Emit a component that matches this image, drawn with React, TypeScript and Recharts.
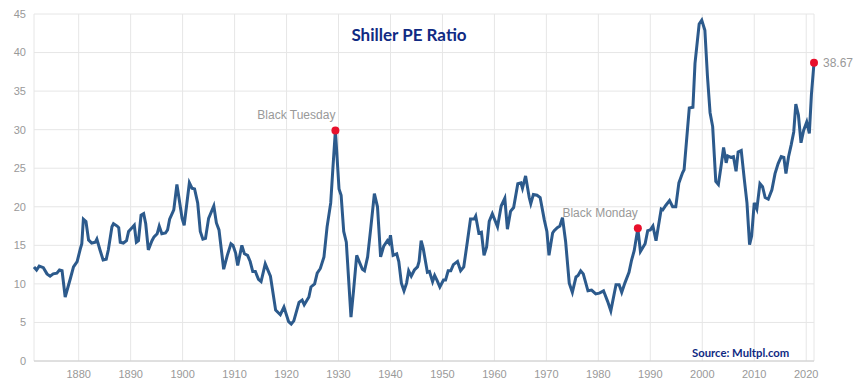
import { CartesianGrid, Line, LineChart, XAxis, YAxis } from "recharts"

// Shiller PE (fractional years)
const years = [
  1871.4, 1871.9, 1872.4, 1873.2, 1873.9, 1874.5, 1875.1, 1875.8, 1876.3, 1876.8,
  1877.4, 1878.4, 1879.0, 1879.7, 1880.3, 1880.6, 1880.9, 1881.4, 1881.9, 1882.5,
  1883.2, 1883.5, 1884.1, 1884.7, 1885.3, 1885.7, 1886.4, 1886.7, 1887.4, 1887.7,
  1888.0, 1888.6, 1889.2, 1889.6, 1890.3, 1890.7, 1891.1, 1891.5, 1892.0, 1892.5,
  1892.9, 1893.4, 1894.1, 1894.5, 1895.1, 1895.5, 1896.0, 1896.7, 1897.1, 1897.5,
  1898.3, 1898.9, 1899.9, 1900.3, 1901.3, 1901.8, 1902.3, 1902.9, 1903.4, 1903.9,
  1904.4, 1905.0, 1906.0, 1906.5, 1907.0, 1907.9, 1908.6, 1909.3, 1909.7, 1910.2,
  1910.6, 1911.4, 1911.9, 1912.5, 1913.0, 1913.5, 1914.0, 1914.6, 1915.1, 1915.9,
  1916.9, 1917.9, 1918.8, 1919.5, 1920.4, 1920.9, 1921.4, 1922.4, 1923.0, 1923.4,
  1924.3, 1924.7, 1925.4, 1925.9, 1926.5, 1927.2, 1927.8, 1928.5, 1928.9, 1929.4,
  1930.1, 1930.5, 1931.0, 1931.5, 1932.4, 1932.9, 1933.5, 1934.1, 1934.6, 1935.0,
  1935.6, 1936.2, 1936.9, 1937.5, 1938.1, 1938.7, 1939.4, 1939.7, 1940.0, 1940.5,
  1941.2, 1941.6, 1942.1, 1942.6, 1943.1, 1943.5, 1944.0, 1944.6, 1945.2, 1945.5,
  1945.9, 1946.3, 1947.1, 1947.5, 1948.1, 1948.5, 1949.0, 1949.5, 1950.2, 1950.6,
  1951.1, 1951.6, 1952.1, 1952.9, 1953.5, 1954.1, 1954.8, 1955.4, 1956.1, 1956.4,
  1957.0, 1957.5, 1958.0, 1958.5, 1959.0, 1959.6, 1960.6, 1961.3, 1962.0, 1962.5,
  1963.1, 1963.7, 1964.5, 1965.1, 1965.4, 1966.0, 1966.7, 1967.0, 1967.5, 1968.2,
  1968.8, 1969.6, 1970.1, 1970.5, 1971.2, 1971.5, 1972.1, 1972.6, 1973.1, 1973.7,
  1974.4, 1975.0, 1975.7, 1976.1, 1976.6, 1977.1, 1978.0, 1978.7, 1979.5, 1980.2,
  1981.0, 1981.8, 1982.4, 1983.4, 1984.0, 1984.5, 1985.1, 1985.9, 1986.4, 1986.9,
  1987.6, 1988.1, 1989.0, 1989.5, 1990.0, 1990.5, 1991.1, 1992.1, 1992.4, 1993.0,
  1993.7, 1994.3, 1994.9, 1995.5, 1996.2, 1996.5, 1997.5, 1998.2, 1998.6, 1999.4,
  1999.9, 2000.5, 2001.0, 2001.5, 2002.0, 2002.6, 2003.1, 2003.6, 2004.1, 2004.6,
  2004.9, 2005.5, 2006.0, 2006.5, 2006.9, 2007.5, 2008.1, 2008.6, 2009.1, 2009.5,
  2010.0, 2010.5, 2011.1, 2011.6, 2012.1, 2012.7, 2013.4, 2014.0, 2014.6, 2015.2,
  2015.7, 2016.1, 2016.6, 2017.1, 2017.6, 2018.0, 2018.5, 2019.0, 2019.5, 2020.1,
  2020.6, 2021.0, 2021.5,
]

const pe = [
  12.2, 11.8, 12.3, 12.1, 11.3, 11.0, 11.3, 11.4, 11.8, 11.7,
  8.3, 10.7, 12.2, 12.9, 14.5, 15.2, 18.4, 18.1, 15.7, 15.3,
  15.4, 15.8, 14.4, 13.1, 13.2, 14.4, 17.4, 17.8, 17.5, 17.3,
  15.4, 15.3, 15.6, 16.8, 17.3, 17.6, 15.4, 15.6, 18.9, 19.1,
  17.8, 14.4, 15.6, 16.1, 16.5, 17.5, 16.5, 16.6, 17.0, 18.4,
  19.6, 22.9, 18.5, 17.6, 23.1, 22.4, 22.3, 20.5, 16.8, 15.8,
  15.9, 18.5, 20.1, 17.9, 17.0, 11.9, 13.7, 15.2, 15.0, 14.0,
  12.4, 15.0, 13.9, 13.7, 12.9, 11.6, 11.6, 10.6, 10.3, 12.6,
  11.0, 6.6, 6.0, 7.0, 5.1, 4.8, 5.2, 7.6, 7.9, 7.3,
  8.3, 9.6, 10.0, 11.4, 12.0, 13.5, 17.4, 20.5, 24.8, 29.9,
  22.3, 21.5, 16.8, 15.4, 5.7, 9.2, 13.7, 12.7, 11.9, 11.7,
  13.5, 17.2, 21.7, 20.0, 13.5, 14.9, 15.6, 15.3, 16.3, 13.7,
  13.9, 12.9, 10.1, 9.1, 10.1, 11.7, 11.0, 11.8, 12.2, 12.9,
  15.6, 14.6, 11.5, 11.6, 10.3, 11.1, 10.4, 9.6, 10.5, 10.5,
  11.7, 11.7, 12.5, 12.9, 11.7, 12.2, 15.5, 18.4, 18.4, 18.8,
  16.6, 16.7, 13.7, 14.8, 18.1, 19.1, 17.4, 20.1, 21.1, 17.1,
  19.4, 19.9, 23.0, 23.1, 22.4, 24.0, 21.2, 20.4, 21.6, 21.5,
  21.2, 18.3, 16.8, 13.7, 16.6, 16.9, 17.3, 17.5, 18.6, 15.5,
  10.1, 8.9, 10.9, 11.1, 11.7, 11.3, 9.1, 9.2, 8.7, 8.8,
  9.1, 7.7, 6.5, 9.9, 9.9, 8.9, 10.1, 11.5, 13.1, 14.3,
  17.2, 14.2, 15.2, 16.9, 17.0, 17.5, 15.6, 19.7, 19.6, 20.2,
  20.8, 20.0, 20.0, 23.1, 24.4, 24.8, 32.8, 32.9, 38.6, 43.7,
  44.2, 42.9, 36.9, 32.2, 30.4, 23.3, 22.9, 25.2, 27.7, 25.7,
  26.6, 26.4, 26.5, 24.6, 27.1, 27.3, 23.5, 20.5, 15.1, 16.2,
  20.5, 19.7, 23.0, 22.6, 21.2, 21.0, 22.2, 24.3, 25.6, 26.5,
  26.4, 24.3, 26.5, 28.0, 29.7, 33.3, 31.9, 28.3, 29.9, 31.0,
  29.5, 34.5, 38.67,
]

const xTicks = [1880, 1890, 1900, 1910, 1920, 1930, 1940, 1950, 1960, 1970, 1980, 1990, 2000, 2010, 2020]
const yTicks = [0, 5, 10, 15, 20, 25, 30, 35, 40, 45]

// marked points
const markYears = [1929.4, 1987.6, 2021.5]
const markLabels = ["Black Tuesday", "Black Monday", "38.67"]

const data = years.map((year, i) => ({ year, pe: pe[i] }))

const font = "'Liberation Sans', Arial, sans-serif"

function renderDot(props: any) {
  const { cx, cy, index, payload } = props
  const m = markYears.indexOf(payload.year)
  if (m < 0) return <g key={`d-${index}`} />
  const last = m === markYears.length - 1
  return (
    <g key={`d-${index}`}>
      <circle cx={cx} cy={cy} r={4} fill="#e8102c" />
      <text
        x={last ? cx + 9 : cx}
        y={last ? cy : cy - 16}
        dy="0.35em"
        textAnchor={last ? "start" : "end"}
        fontSize={12}
        fontFamily={font}
        fill="#999"
      >
        {markLabels[m]}
      </text>
    </g>
  )
}

export default function App() {
  return (
    <div style={{ position: "absolute", left: 0, top: 0, width: 858, height: 390, background: "#fff" }}>
      <LineChart width={858} height={390} data={data} margin={{ top: 14, right: 44, bottom: 0, left: 0 }}>
        <CartesianGrid stroke="#e6e6e6" />
        <XAxis
          dataKey="year"
          type="number"
          domain={["dataMin", "dataMax"]}
          ticks={xTicks}
          height={29}
          tickLine={false}
          axisLine={{ stroke: "#ccc" }}
          tickMargin={3}
          tick={{ fill: "#999", fontSize: 11, fontFamily: font }}
        />
        <YAxis
          domain={[0, 45]}
          ticks={yTicks}
          width={34}
          axisLine={false}
          tickLine={false}
          tick={{ fill: "#999", fontSize: 11, fontFamily: font }}
        />
        <Line
          type="linear"
          dataKey="pe"
          stroke="#2c5a8c"
          strokeWidth={3}
          dot={renderDot}
          activeDot={false}
          isAnimationActive={false}
        />
      </LineChart>
      <div
        style={{
          position: "absolute",
          left: 309,
          width: 200,
          top: 24,
          textAlign: "center",
          fontFamily: "Lato, sans-serif",
          fontWeight: 700,
          fontSize: 17,
          lineHeight: "22px",
          color: "#102a83",
        }}
      >
        Shiller PE Ratio
      </div>
      <div
        style={{
          position: "absolute",
          left: 640,
          width: 200,
          top: 345,
          textAlign: "left",
          paddingLeft: 52,
          fontFamily: "Lato, sans-serif",
          fontWeight: 700,
          fontSize: 11.3,
          lineHeight: "16px",
          color: "#102a83",
        }}
      >
        Source: Multpl.com
      </div>
    </div>
  )
}
